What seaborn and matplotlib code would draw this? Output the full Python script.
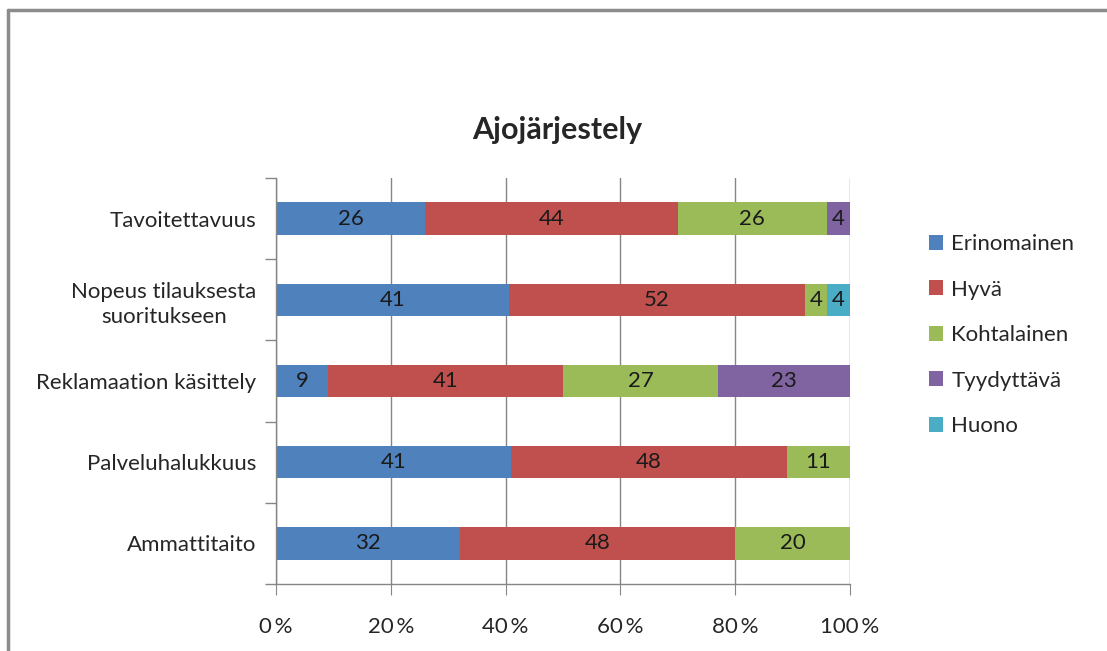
import numpy as np
import pandas as pd
import matplotlib.pyplot as plt
import seaborn as sns
from matplotlib.patches import Patch
from matplotlib.lines import Line2D

# Data
categories = ["Tavoitettavuus", "Nopeus tilauksesta\nsuoritukseen", "Reklamaation käsittely",
              "Palveluhalukkuus", "Ammattitaito"]
series = ["Erinomainen", "Hyvä", "Kohtalainen", "Tyydyttävä", "Huono"]
erinomainen = [26, 41, 9, 41, 32]
hyva = [44, 52, 41, 48, 48]
kohtalainen = [26, 4, 27, 11, 20]
tyydyttava = [4, 0, 23, 0, 0]
huono = [0, 4, 0, 0, 0]
colors = ["#4F81BD", "#C0504D", "#9BBB59", "#8064A2", "#4BACC6"]

df = pd.DataFrame({"category": categories, "Erinomainen": erinomainen, "Hyvä": hyva,
                   "Kohtalainen": kohtalainen, "Tyydyttävä": tyydyttava, "Huono": huono})
vals = df[series].to_numpy(dtype=float)
pct = vals / vals.sum(axis=1, keepdims=True) * 100
cum = np.cumsum(pct, axis=1)

sns.set_style("white")
plt.rcParams['font.family'] = ['Lato', 'DejaVu Sans']

fig = plt.figure(figsize=(11.07, 6.51), dpi=100)
ax = fig.add_axes([276 / 1107, 1 - 584 / 651, 574 / 1107, 406 / 651])

# stacked bars: draw cumulative totals from the back to the front
for i in range(len(series) - 1, -1, -1):
    sns.barplot(x=cum[:, i], y=df["category"], color=colors[i], saturation=1,
                width=0.4, linewidth=0, orient="h", ax=ax)

# value labels
for r in range(len(categories)):
    left = 0
    for i in range(len(series)):
        if vals[r, i] > 0:
            ax.text(left + pct[r, i] / 2, r, f"{int(vals[r, i])}", ha="center", va="center",
                    fontsize=16, color="#1a1a1a")
        left += pct[r, i]

ax.set_xlim(0, 100)
ax.set_ylim(len(categories) - 0.5, -0.5)
ax.set_xticks(range(0, 101, 20))
ax.set_xticklabels([f"{t}\u2009%" for t in range(0, 101, 20)])
ax.set_xlabel("")
ax.set_ylabel("")
ax.grid(axis="x", color="#868686", linewidth=1)
ax.set_axisbelow(True)
for s in ["top", "right"]:
    ax.spines[s].set_visible(False)
for s in ["left", "bottom"]:
    ax.spines[s].set_color("#868686")
    ax.spines[s].set_linewidth(1)

ax.tick_params(axis="x", bottom=True, length=8, color="#868686", direction="out", pad=16,
               labelsize=16)
ax.tick_params(axis="y", which="major", left=True, length=0, pad=14, labelsize=16)
ax.set_yticks(np.arange(-0.5, len(categories), 1), minor=True)
ax.tick_params(axis="y", which="minor", left=True, length=8, width=1, color="#868686",
               direction="out")
for lab in ax.get_yticklabels():
    lab.set_multialignment("center")
    lab.set_linespacing(1.35)

fig.text(557 / 1107, 1 - 130 / 651, "Ajojärjestely", ha="center", va="center",
         fontsize=22, fontweight="bold")

handles = [Patch(facecolor=c, edgecolor="none") for c in colors]
fig.legend(handles, series, loc="upper left", bbox_to_anchor=(909 / 1107, 1 - 214 / 651),
           frameon=False, fontsize=16, handlelength=0.65, handleheight=0.65,
           handletextpad=0.35, labelspacing=1.15)

# chart border (top and left only visible)
fig.add_artist(Line2D([8 / 1107, 8 / 1107], [0, 1 - 10 / 651], transform=fig.transFigure,
                      color="#8c8c8c", linewidth=2.5))
fig.add_artist(Line2D([8 / 1107, 1], [1 - 10 / 651, 1 - 10 / 651], transform=fig.transFigure,
                      color="#8c8c8c", linewidth=2.5))

fig.savefig("out.png", dpi=100)
